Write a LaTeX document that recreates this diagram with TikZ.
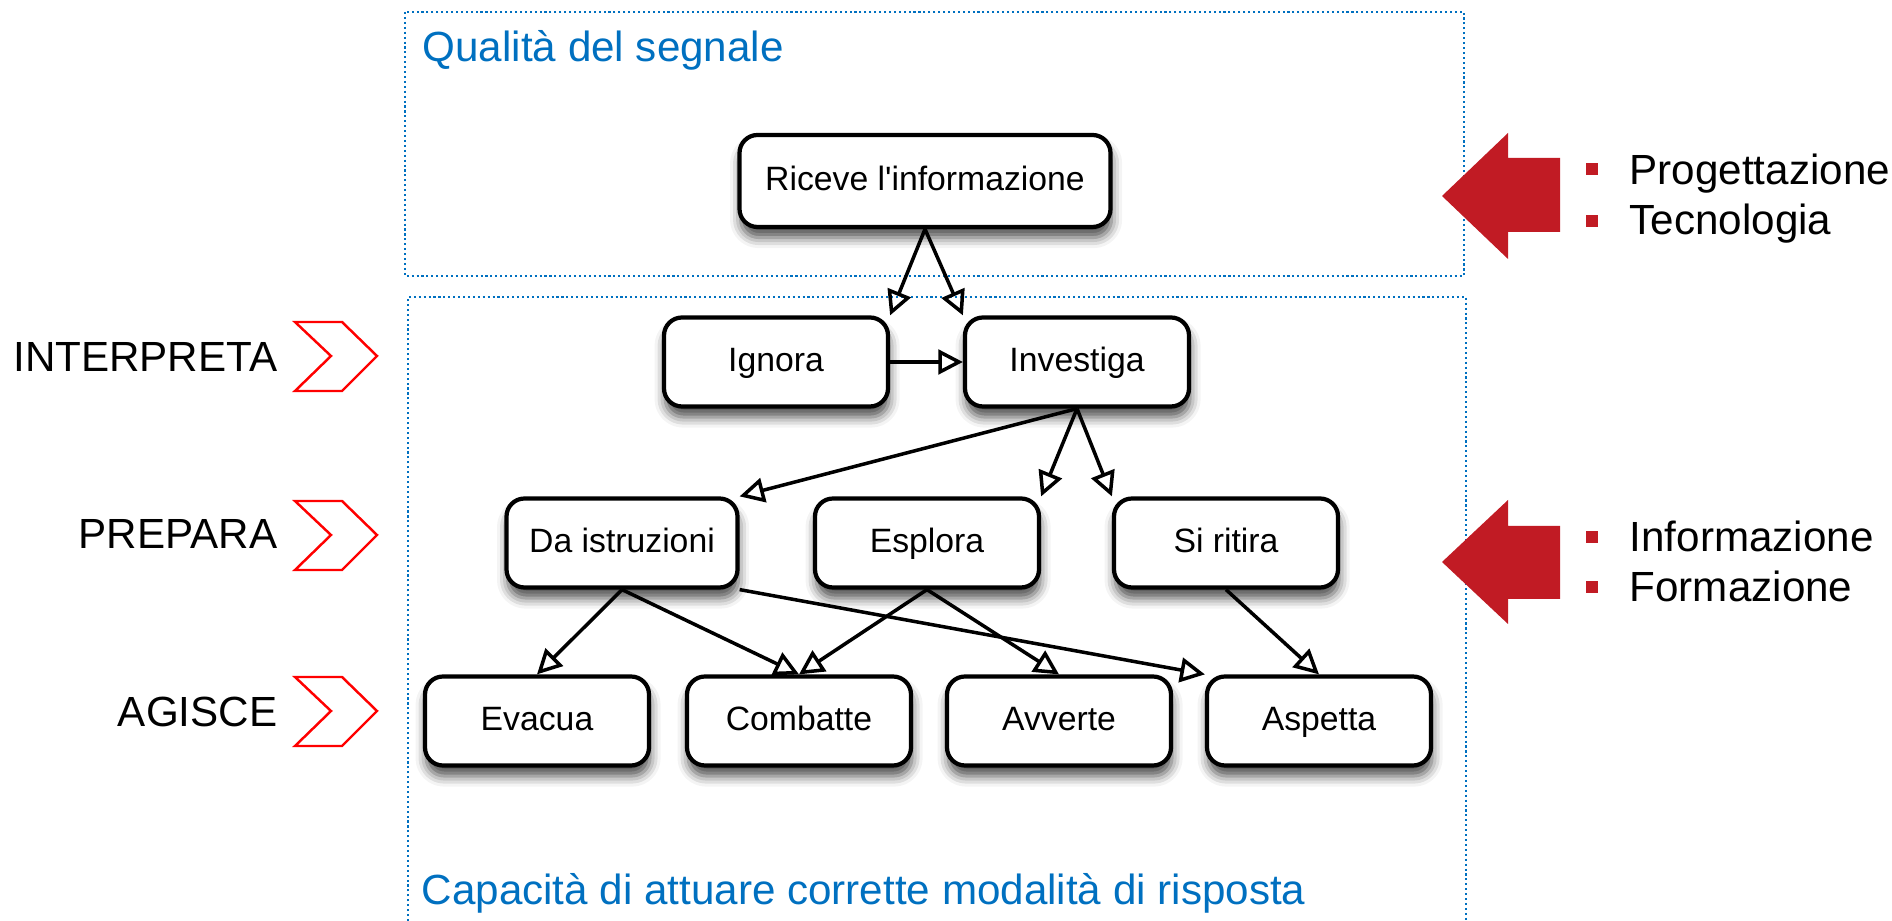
\documentclass[tikz,border=0pt]{standalone}
\usepackage{fontspec}
\setmainfont{Liberation Sans}
\usetikzlibrary{shapes,arrows.meta,positioning,shadows.blur}
\usepackage{xcolor}
\definecolor{titleblue}{RGB}{0,112,192}
\definecolor{arrowred}{RGB}{193,27,36}

\tikzset{
  stepnode/.style={rectangle, draw, line width=1.2pt, rounded corners=1.8mm, fill=white,
    minimum width=22.4mm, minimum height=8.9mm, font=\fontsize{9.6}{11}\selectfont,
    text height=0.72em, text depth=0.2em,
    blur shadow={shadow xshift=0.3pt, shadow yshift=-3pt, shadow blur radius=3pt, shadow opacity=70}},
  link/.style={-{Triangle[open,length=7pt,width=7pt]}, line width=1pt},
  dotbox/.style={titleblue, line width=0.6pt, dash pattern=on 0.6pt off 0.8pt},
  phase/.style={font=\fontsize{12}{14}\selectfont, anchor=base east, inner sep=0pt},
  boxtitle/.style={font=\fontsize{12}{14}\selectfont, text=titleblue, anchor=base west, inner sep=0pt},
  bullettext/.style={font=\fontsize{12}{14}\selectfont, anchor=base west, inner sep=0pt}
}

\begin{document}
\begin{tikzpicture}[x=0.1mm, y=-0.1mm]
  \useasboundingbox (0,0) rectangle (1892,921);

  % dotted frames
  \draw[dotbox] (405,12) rectangle (1464,276);
  \draw[dotbox] (408,921) -- (408,297) -- (1466,297) -- (1466,921);
  \node[boxtitle] (tsignal) at (422,62) {Qualità del segnale};
  \node[boxtitle] (tresponse) at (421,905) {Capacità di attuare corrette modalità di risposta};

  % phases on the left
  \node[phase] (interpreta) at (278,372) {INTERPRETA};
  \node[phase] (prepara) at (278,549) {PREPARA};
  \node[phase] (agisce) at (278,727) {AGISCE};
  \draw[red, line width=0.7pt] (295,322) -- (342,322) -- (377,356) -- (342,391) -- (295,391) -- (331,356) -- cycle;
  \draw[red, line width=0.7pt] (295,501) -- (342,501) -- (377,535) -- (342,570) -- (295,570) -- (331,535) -- cycle;
  \draw[red, line width=0.7pt] (295,677) -- (342,677) -- (377,711) -- (342,746) -- (295,746) -- (331,711) -- cycle;

  % big arrows and bullets on the right
  \fill[arrowred] (1442,196) -- (1508,133) -- (1508,158) -- (1560,158) -- (1560,232) -- (1508,232) -- (1508,259) -- cycle;
  \fill[arrowred] (1442,562) -- (1508,500) -- (1508,526) -- (1560,526) -- (1560,599) -- (1508,599) -- (1508,624) -- cycle;
  \fill[arrowred] (1586,163) rectangle (1598,175);
  \fill[arrowred] (1586,215) rectangle (1598,227);
  \fill[arrowred] (1586,531) rectangle (1598,543);
  \fill[arrowred] (1586,581) rectangle (1598,593);
  \node[bullettext] (progettazione) at (1629,185) {Progettazione};
  \node[bullettext] (tecnologia) at (1629,235) {Tecnologia};
  \node[bullettext] (informazione) at (1629,552) {Informazione};
  \node[bullettext] (formazione) at (1629,602) {Formazione};

  % flow
  \node[stepnode, minimum width=37.1mm, minimum height=9.2mm] (riceve) at (925,181) {Riceve l\textquotesingle informazione};
  \node[stepnode] (ignora) at (776,362) {Ignora};
  \node[stepnode] (investiga) at (1077,362) {Investiga};
  \node[stepnode, minimum width=23.1mm] (istruzioni) at (622,543) {Da istruzioni};
  \node[stepnode] (esplora) at (927,543) {Esplora};
  \node[stepnode] (ritira) at (1226,543) {Si ritira};
  \node[stepnode] (evacua) at (537,721) {Evacua};
  \node[stepnode] (combatte) at (799,721) {Combatte};
  \node[stepnode] (avverte) at (1059,721) {Avverte};
  \node[stepnode] (aspetta) at (1319,721) {Aspetta};

  \draw[link] (riceve.south) -- (ignora.north east);
  \draw[link] (riceve.south) -- (investiga.north west);
  \draw[link] (ignora.east) -- (investiga.west);
  \draw[link] (investiga.south) -- (istruzioni.north east);
  \draw[link] (investiga.south) -- (esplora.north east);
  \draw[link] (investiga.south) -- (ritira.north west);
  \draw[link] (istruzioni.south) -- (evacua.north);
  \draw[link] (istruzioni.south) -- (combatte.north);
  \draw[link] (istruzioni.south east) -- (aspetta.north west);
  \draw[link] (esplora.south) -- (combatte.north);
  \draw[link] (esplora.south) -- (avverte.north);
  \draw[link] (ritira.south) -- (aspetta.north);
\end{tikzpicture}
\end{document}
